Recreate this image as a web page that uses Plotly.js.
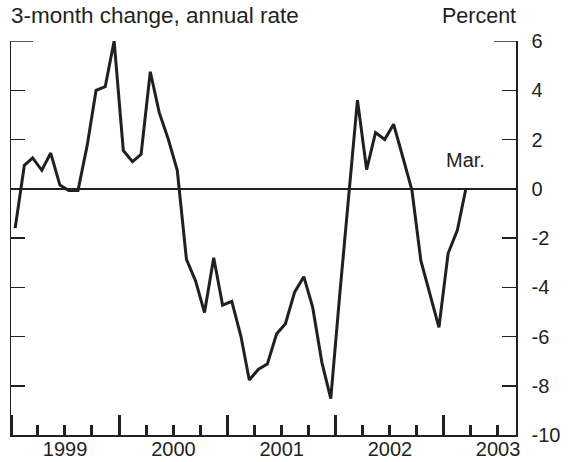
<!DOCTYPE html>
<html>
<head>
<meta charset="utf-8">
<script src="https://cdn.plot.ly/plotly-3.0.1.min.js"></script>
<style>html,body{margin:0;padding:0;background:#fff;}#chart{width:569px;height:462px;}</style>
</head>
<body>
<div id="chart"></div>
<script>
// Monthly observations, plotted at mid-month
const months = [
  '1999-01-15','1999-02-15','1999-03-15','1999-04-15','1999-05-15','1999-06-15',
  '1999-07-15','1999-08-15','1999-09-15','1999-10-15','1999-11-15','1999-12-15',
  '2000-01-15','2000-02-15','2000-03-15','2000-04-15','2000-05-15','2000-06-15',
  '2000-07-15','2000-08-15','2000-09-15','2000-10-15','2000-11-15','2000-12-15',
  '2001-01-15','2001-02-15','2001-03-15','2001-04-15','2001-05-15','2001-06-15',
  '2001-07-15','2001-08-15','2001-09-15','2001-10-15','2001-11-15','2001-12-15',
  '2002-01-15','2002-02-15','2002-03-15','2002-04-15','2002-05-15','2002-06-15',
  '2002-07-15','2002-08-15','2002-09-15','2002-10-15','2002-11-15','2002-12-15',
  '2003-01-15','2003-02-15','2003-03-15'
];
// 3-month change, annual rate (percent)
const values = [
  -1.6, 0.95, 1.25, 0.75, 1.45, 0.15, -0.07, -0.07, 1.75, 4.0, 4.15, 6.0,
  1.55, 1.1, 1.4, 4.75, 3.1, 2.0, 0.75, -2.87, -3.75, -5.03, -2.8, -4.73,
  -4.57, -6.0, -7.77, -7.33, -7.12, -5.9, -5.48, -4.2, -3.57, -4.82, -7.05, -8.52,
  -4.2, -0.2, 3.6, 0.78, 2.28, 2.0, 2.62, 1.29, -0.07, -2.92, -4.27, -5.63,
  -2.62, -1.69, -0.05
];
const xRange = ['1999-01-01', '2003-09-01'];
const yTicks = [-10, -8, -6, -4, -2, 0, 2, 4, 6];
const leftTitle = '3-month change, annual rate';
const rightTitle = 'Percent';
const lastLabel = 'Mar.';
const lastLabelPos = ['2003-03-15', 1.15];

const ink = '#231f20';
const fam = 'Liberation Sans, Arial, Helvetica, sans-serif';
const font = {family: fam, size: 20, color: ink};

const trace = {
  x: months, y: values, type: 'scatter', mode: 'lines',
  line: {color: ink, width: 3}, hoverinfo: 'skip'
};

const plotW = 505;
const topTick = 22 / plotW;

const layout = {
  width: 569, height: 462,
  margin: {l: 11, r: 53, t: 41, b: 27, pad: 0},
  paper_bgcolor: '#fff', plot_bgcolor: '#fff',
  showlegend: false,
  font: font,
  xaxis: {
    type: 'date', range: xRange,
    showgrid: false, zeroline: false,
    showline: true, linecolor: ink, linewidth: 1.5,
    tick0: '1999-01-01', dtick: 'M12', tickformat: '%Y',
    ticklabelmode: 'period',
    ticks: 'inside', ticklen: 20, tickwidth: 3, tickcolor: ink,
    tickfont: font, ticklabelstandoff: -5,
    minor: {dtick: 'M3', tick0: '1999-01-01', ticks: 'inside', ticklen: 10, tickwidth: 3, tickcolor: ink, showgrid: false},
    fixedrange: true
  },
  yaxis: {
    range: [-10, 6], side: 'right',
    tickvals: yTicks, ticktext: yTicks.map(String),
    showgrid: false,
    zeroline: true, zerolinecolor: ink, zerolinewidth: 2,
    showline: true, linecolor: ink, linewidth: 1.5, mirror: 'ticks',
    ticks: 'inside', ticklen: 14, tickwidth: 1.5, tickcolor: ink,
    tickfont: font, ticklabelstandoff: 10,
    fixedrange: true
  },
  shapes: [
    {type: 'line', xref: 'paper', yref: 'y', x0: 0, x1: topTick, y0: 6, y1: 6, line: {color: ink, width: 1.5}},
    {type: 'line', xref: 'paper', yref: 'y', x0: 1 - topTick, x1: 1, y0: 6, y1: 6, line: {color: ink, width: 1.5}}
  ],
  annotations: [
    {text: leftTitle, xref: 'paper', yref: 'paper', x: -2 / plotW, y: (394 + 25) / 394, xanchor: 'left', yanchor: 'middle', showarrow: false, font: {family: fam, size: 22.5, color: ink}},
    {text: rightTitle, xref: 'paper', yref: 'paper', x: 1 + 2 / plotW, y: (394 + 25) / 394, xanchor: 'right', yanchor: 'middle', showarrow: false, font: {family: fam, size: 21.5, color: ink}},
    {text: lastLabel, xref: 'x', yref: 'y', x: lastLabelPos[0], y: lastLabelPos[1], xanchor: 'center', yanchor: 'middle', showarrow: false, font: font}
  ]
};

Plotly.newPlot('chart', [trace], layout, {displayModeBar: false, staticPlot: true});
</script>
</body>
</html>
